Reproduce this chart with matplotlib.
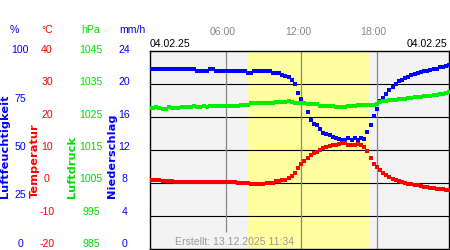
import numpy as np
import matplotlib.pyplot as plt

# 15-minute readings, 04.02.25 00:00 .. 23:45
temperatur = [1.0, 1.0, 1.0, 0.8, 0.7, 0.7, 0.7, 0.6,
              0.4, 0.4, 0.4, 0.4, 0.4, 0.4, 0.4, 0.4, 0.4, 0.4,
              0.4, 0.4, 0.4, 0.4, 0.4, 0.4, 0.4, 0.4, 0.4, 0.4,
              0.1, 0.1, 0.1, 0.1, -0.3, -0.3, -0.3, -0.3, -0.3,
              0.1, 0.1, 0.1, 0.6, 0.6,
              0.8, 1.0, 1.5, 2.1, 3.1, 4.5, 5.8, 6.7, 7.7, 8.4,
              9.0, 9.5, 9.9, 10.7, 10.9, 11.2, 11.4, 11.6, 11.9, 12.2,
              12.0, 11.5, 11.4, 11.5, 11.7, 11.5, 11.0, 9.8, 7.5, 5.9,
              4.8, 3.9, 3.0, 2.4, 1.8, 1.3, 0.9, 0.6, 0.3, 0.0,
              -0.2, -0.4, -0.6, -0.7, -0.9, -1.1, -1.2, -1.4, -1.5, -1.7,
              -1.8, -1.9, -2.0, -2.1]

feuchte = [91.0] * 15 + [89.8] * 4 + [91.0] * 2 + [89.8] * 10 + [88.9] * 2 + \
          [89.9] * 6 + [88.9] * 3 + \
          [88.0, 87.5, 86.8, 85.5, 83.5, 79.0, 76.0, 73.5, 69.0, 65.0,
           63.0, 62.5, 60.8, 58.6, 58.0, 57.5, 56.6, 56.2, 55.8, 55.2,
           54.9, 56.0, 55.2, 56.0, 55.2, 56.0, 55.5, 59.0, 62.5, 67.0,
           70.5, 74.5, 76.5, 78.2, 80.2, 82.0, 83.5, 84.8, 85.3, 86.3,
           87.0, 87.8, 88.5, 88.9, 89.3, 89.8, 90.1, 90.5, 91.0, 91.0,
           91.8, 91.8, 92.3, 93.0]

luftdruck = [1027.7, 1027.7, 1028.0, 1027.6, 1027.5, 1027.5, 1027.9, 1027.6,
             1027.6, 1027.6, 1028.0, 1028.0, 1028.0, 1028.0, 1028.3, 1028.1,
             1028.1, 1028.4, 1028.1] + [1028.3] * 10 + [1028.7] * 3 + \
            [1029.2] * 2 + [1029.3] * 6 + [1029.5] * 4 + \
            [1029.9, 1029.5, 1029.2] + [1029.2] * 3 + [1028.8] * 4 + \
            [1028.3] * 5 + [1028.0] * 4 + [1028.3] * 3 + [1028.7] * 6 + \
            [1029.0, 1029.4, 1029.7, 1030.0, 1030.3, 1030.3, 1030.3, 1030.4,
             1030.5, 1030.6, 1030.7, 1030.8, 1031.0, 1031.0, 1031.1, 1031.3,
             1031.3, 1031.4, 1031.6, 1031.8, 1032.0, 1032.1, 1032.4, 1032.7]

stunden = np.arange(len(temperatur)) / 4.0

feuchte_ticks = [0, 25, 50, 75, 100]
temp_ticks = [-20, -10, 0, 10, 20, 30, 40]
druck_ticks = [985, 995, 1005, 1015, 1025, 1035, 1045]
nieder_ticks = [0, 4, 8, 12, 16, 20, 24]
zeit_ticks = [6, 12, 18]
zeit_labels = ["06:00", "12:00", "18:00"]
tag_von, tag_bis = 7.75, 17.46   # Tageslicht

BLAU, ROT, GRUEN = "#0000ff", "#ff0000", "#00ee00"

W, H = 450, 250
fig = plt.figure(figsize=(4.5, 2.5), dpi=100)
fig.patch.set_facecolor("white")
ax = fig.add_axes([150 / W, 1 / H, 299 / W, 198 / H])
ax.set_facecolor("#f3f3f3")
ax.set_xlim(0, 23.73)
ax.set_ylim(0, 100)
ax.set_xticks([])
ax.set_yticks([])
for s in ax.spines.values():
    s.set_color("black")
    s.set_linewidth(1.0)

ax.axvspan(tag_von, tag_bis, color="#ffffa0", lw=0, zorder=0)
for v in np.linspace(0, 100, 7)[1:-1]:
    ax.axhline(v, color="black", lw=0.8, zorder=1)
for t in zeit_ticks:
    ymin = 8.6 if t == 6 else 0
    ax.vlines(t, ymin, 100, color="#888888", lw=0.9, zorder=1)

ax_t = ax.twinx()
ax_p = ax.twinx()
for a, lim in [(ax_t, (-20, 40)), (ax_p, (985, 1045))]:
    a.set_ylim(*lim)
    a.set_yticks([])
    a.patch.set_visible(False)
    for s in a.spines.values():
        s.set_visible(False)

ms = 2.3
ax.plot(stunden, feuchte, "s", color=BLAU, ms=ms, mew=0, zorder=3)
ax_p.plot(stunden, luftdruck, "s", color=GRUEN, ms=ms, mew=0)
ax_t.plot(stunden, temperatur, "s", color=ROT, ms=ms, mew=0)
ax_p.set_zorder(1)
ax_t.set_zorder(2)

fn = "Liberation Sans"
fs = 7.6


def ypix(frac):
    # label rows sit between y=50 (top) and y=244 (bottom)
    return 1 - (50 + (1 - frac) * 194) / H


for v in feuchte_ticks:
    fig.text(20 / W, ypix(v / 100), str(v), color=BLAU, fontsize=fs,
             family=fn, ha="center", va="center")
for v in temp_ticks:
    fig.text(47 / W, ypix((v + 20) / 60), str(v), color=ROT, fontsize=fs,
             family=fn, ha="center", va="center")
for v in druck_ticks:
    fig.text(91 / W, ypix((v - 985) / 60), str(v), color="#00dd00", fontsize=fs,
             family=fn, ha="center", va="center")
for v in nieder_ticks:
    fig.text(124.5 / W, ypix(v / 24), str(v), color=BLAU, fontsize=fs,
             family=fn, ha="center", va="center")

for txt, x, c in [("%", 14, BLAU), ("°C", 47, ROT),
                  ("hPa", 90.5, "#00dd00"), ("mm/h", 132.5, BLAU)]:
    fig.text(x / W, 1 - 30 / H, txt, color=c, fontsize=fs, family=fn,
             ha="center", va="center")

for txt, x, c in [("Luftfeuchtigkeit", 5.5, BLAU),
                  ("Temperatur", 35, ROT),
                  ("Luftdruck", 72, "#00dd00"),
                  ("Niederschlag", 112, BLAU)]:
    fig.text(x / W, 1 - 198 / H, txt, color=c, fontsize=8.2,
             family="DejaVu Sans", weight="bold", rotation=90,
             ha="center", va="bottom")

for t, lab in zip(zeit_ticks, zeit_labels):
    ax.text(t - 0.25, 1 + 19 / 198, lab, transform=ax.get_xaxis_transform(),
            color="#888888", fontsize=fs, family=fn, ha="center", va="center")

fig.text(150 / W, 1 - 44 / H, "04.02.25", color="black", fontsize=fs,
         family=fn, ha="left", va="center")
fig.text(447 / W, 1 - 44 / H, "04.02.25", color="black", fontsize=fs,
         family=fn, ha="right", va="center")
fig.text(175 / W, 1 - 241.7 / H, "Erstellt: 13.12.2025 11:34", color="#999999",
         fontsize=fs, family=fn, ha="left", va="center")

fig.savefig("out.png", dpi=100)
